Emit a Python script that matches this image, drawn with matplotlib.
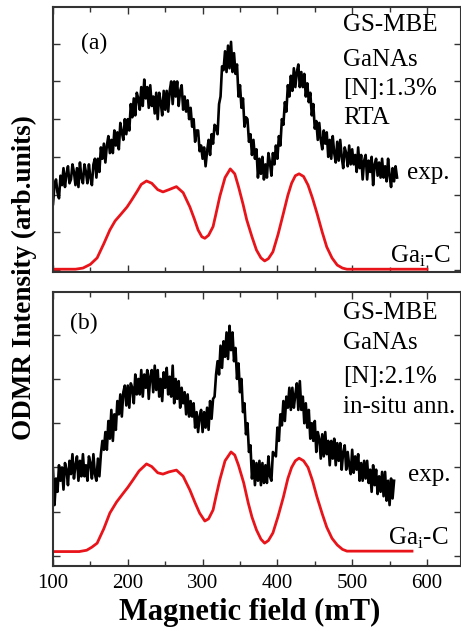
import numpy as np
import matplotlib
matplotlib.use("Agg")
import matplotlib.pyplot as plt
from matplotlib.ticker import MultipleLocator

plt.rcParams["font.family"] = ["Liberation Serif", "DejaVu Serif"]
plt.rcParams["mathtext.fontset"] = "custom"
plt.rcParams["mathtext.rm"] = "Liberation Serif"

# ---------- data ----------
# measured spectra, sampled every 2 mT
field_a = np.arange(100, 561, 2)
exp_a = [
    1.75, 2.25, 2.4, 2.05, 1.9, 2.5, 2.25, 2.7, 2.2, 2.55,
    2.75, 2.3, 2.4, 2.8, 2.6, 2.25, 2.7, 2.2, 2.85, 2.45,
    2.3, 2.8, 2.6, 2.3, 2.8, 2.45, 2.25, 2.8, 2.95, 2.45,
    2.95, 2.6, 3.25, 2.95, 3.35, 2.85, 3.3, 3.55, 3.1, 3.45,
    3.1, 3.7, 3.3, 3.65, 3.2, 3.9, 3.65, 3.45, 4.0, 3.6,
    4.0, 3.7, 4.4, 4.05, 4.55, 4.1, 4.7, 4.55, 4.25, 4.85,
    4.35, 5.05, 4.55, 4.85, 4.3, 4.9, 4.35, 4.6, 4.15, 4.7,
    4.0, 4.7, 4.45, 4.1, 4.75, 4.25, 4.75, 4.2, 4.75, 5.0,
    4.4, 5.0, 4.6, 5.0, 4.35, 4.75, 4.9, 4.25, 4.6, 4.2,
    4.5, 4.0, 4.3, 3.8, 4.0, 3.4, 3.7, 3.7, 3.15, 3.3,
    2.95, 3.25, 2.75, 3.15, 3.45, 3.05, 3.6, 3.35, 3.85, 3.8,
    3.6, 4.4, 4.6, 5.4, 5.3, 5.8, 5.25, 5.95, 5.35, 6.05,
    5.25, 5.75, 5.2, 5.45, 4.6, 4.9, 4.3, 4.55, 3.8, 4.05,
    4.0, 3.4, 3.6, 3.05, 3.45, 2.95, 3.2, 2.45, 2.95, 2.55,
    3.0, 2.4, 2.8, 2.45, 3.1, 2.85, 2.5, 3.1, 2.8, 3.3,
    2.95, 3.55, 3.3, 4.0, 3.85, 4.45, 4.2, 4.9, 4.6, 5.15,
    4.75, 5.35, 4.85, 5.25, 5.45, 4.85, 5.25, 4.85, 5.2, 4.6,
    4.95, 4.45, 4.7, 4.1, 4.4, 3.75, 3.95, 3.45, 3.9, 3.45,
    3.2, 3.7, 3.35, 3.65, 3.0, 3.45, 2.95, 3.55, 3.1, 2.85,
    3.4, 2.9, 3.45, 3.0, 2.7, 3.25, 3.1, 2.75, 3.3, 2.8,
    3.2, 2.8, 3.05, 2.6, 3.25, 2.7, 3.05, 2.4, 2.9, 3.05,
    2.4, 2.9, 2.6, 3.0, 2.25, 2.8, 2.95, 2.5, 2.85, 2.45,
    2.95, 2.45, 2.75, 2.35, 2.95, 2.5, 2.2, 2.7, 2.35, 2.75,
    2.45,
]

field_b = np.arange(100, 557, 2)
exp_b = [
    1.95, 1.15, 1.75, 1.45, 2.05, 1.7, 2.0, 1.5, 2.1, 1.95,
    1.6, 2.15, 1.85, 2.3, 1.75, 2.05, 2.25, 1.7, 2.15, 1.8,
    2.3, 1.8, 2.05, 1.7, 2.25, 2.1, 1.75, 2.3, 1.85, 1.7,
    2.2, 1.8, 2.3, 2.6, 2.4, 2.8, 2.4, 3.05, 2.65, 3.3,
    2.6, 3.2, 2.85, 3.5, 3.2, 3.65, 3.15, 3.7, 3.85, 3.4,
    3.85, 3.35, 3.9, 3.8, 3.45, 4.1, 3.65, 4.0, 3.65, 4.2,
    3.6, 4.1, 3.8, 4.2, 3.55, 4.05, 4.2, 3.7, 4.3, 3.75,
    4.2, 3.6, 4.0, 3.5, 4.15, 3.8, 4.25, 3.65, 4.05, 3.6,
    4.3, 3.45, 4.0, 3.55, 3.95, 3.35, 3.8, 3.45, 3.7, 3.2,
    3.65, 3.15, 3.5, 3.15, 3.45, 2.9, 3.25, 2.8, 3.15, 3.3,
    2.8, 3.25, 2.9, 3.35, 2.85, 3.5, 3.1, 3.55, 3.6, 4.1,
    4.4, 4.1, 4.75, 4.25, 4.85, 4.5, 5.05, 4.45, 5.2, 4.65,
    5.05, 4.4, 4.7, 4.0, 4.35, 3.7, 4.0, 3.25, 3.45, 2.75,
    3.0, 2.35, 2.5, 1.75, 2.15, 1.6, 2.1, 1.7, 2.15, 1.6,
    2.1, 1.65, 2.05, 1.65, 2.25, 1.8, 1.7, 2.35, 2.3, 2.25,
    2.9, 2.6, 3.2, 2.95, 3.5, 3.05, 3.6, 3.35, 3.8, 3.3,
    3.8, 3.35, 3.65, 3.9, 3.3, 3.95, 3.3, 3.6, 3.0, 3.45,
    2.9, 3.3, 2.65, 3.0, 2.6, 3.05, 2.35, 2.8, 2.65, 2.2,
    2.75, 2.25, 2.8, 2.3, 2.6, 2.05, 2.6, 2.2, 2.65, 2.05,
    2.55, 2.15, 2.55, 1.95, 2.35, 2.5, 1.95, 2.35, 2.05, 1.85,
    2.4, 1.88, 2.25, 1.95, 2.3, 1.7, 2.1, 1.7, 2.15, 1.75,
    2.15, 1.65, 1.95, 1.45, 2.05, 1.6, 1.95, 1.4, 1.8, 1.45,
    1.9, 1.35, 1.9, 1.25, 1.7, 1.15, 1.75, 1.3, 1.7,
]

# simulated Ga_i-C spectra
sim_field_a = [100, 130, 140, 150, 159, 168, 176, 183, 190, 199, 205, 212, 218,
               225, 232, 240, 247, 255, 265, 274, 283, 289, 294, 299, 303, 308,
               314, 318, 323, 330, 337, 343, 348, 354, 359, 366, 372, 378, 383,
               388, 394, 401, 408, 414, 419, 424, 429, 435, 441, 447, 453, 460,
               466, 473, 480, 487, 493, 600]
sim_a = [0.02, 0.02, 0.05, 0.15, 0.32, 0.7, 1.06, 1.3, 1.46, 1.67, 1.85, 2.07, 2.27,
         2.36, 2.3, 2.13, 2.07, 2.13, 2.21, 2.05, 1.67, 1.35, 1.06, 0.88, 0.84, 0.92,
         1.15, 1.5, 1.95, 2.45, 2.68, 2.55, 2.21, 1.75, 1.33, 0.88, 0.53, 0.32, 0.24,
         0.3, 0.48, 0.95, 1.5, 1.98, 2.3, 2.5, 2.55, 2.48, 2.25, 1.9, 1.5, 1.0,
         0.61, 0.32, 0.13, 0.05, 0.02, 0.02]

sim_field_b = [100, 135, 145, 152, 159, 168, 176, 185, 194, 200, 207, 215, 225,
               232, 240, 247, 255, 265, 274, 283, 290, 296, 303, 308, 314, 318,
               323, 330, 338, 343, 348, 355, 361, 366, 372, 378, 383, 388, 394,
               401, 408, 414, 419, 424, 429, 435, 441, 447, 453, 460, 466, 473,
               480, 487, 493, 580]
sim_b = [0.1, 0.1, 0.13, 0.2, 0.29, 0.62, 0.97, 1.22, 1.42, 1.55, 1.72, 1.92, 2.08,
         2.02, 1.88, 1.85, 1.9, 1.94, 1.8, 1.49, 1.2, 0.97, 0.79, 0.84, 1.04, 1.35,
         1.72, 2.15, 2.35, 2.28, 2.05, 1.65, 1.2, 0.88, 0.59, 0.38, 0.29, 0.35, 0.52,
         0.9, 1.33, 1.75, 2.0, 2.15, 2.21, 2.15, 2.0, 1.7, 1.33, 0.95, 0.65, 0.4,
         0.25, 0.15, 0.11, 0.11]

labels_a = ["GS-MBE", "GaNAs", "[N]:1.3%", "RTA"]
labels_b = ["GS-MBE", "GaNAs", "[N]:2.1%", "in-situ ann."]


def style_axes(ax, ylim):
    ax.set_xlim(100, 645.5)
    ax.set_ylim(*ylim)
    ax.xaxis.set_major_locator(MultipleLocator(100))
    ax.xaxis.set_minor_locator(MultipleLocator(50))
    ax.yaxis.set_major_locator(MultipleLocator(1))
    ax.tick_params(which="both", direction="in", top=True, right=True,
                   labelleft=False, width=1.0, color="#333333")
    ax.tick_params(which="major", length=5)
    ax.tick_params(which="minor", length=3.5)
    for sp in ax.spines.values():
        sp.set_linewidth(1.5)
        sp.set_color("#333333")


fig = plt.figure(figsize=(4.61, 6.31), dpi=100)
ax1 = fig.add_axes([0.115, 0.569, 0.885, 0.420])
ax2 = fig.add_axes([0.115, 0.103, 0.885, 0.434])

# ---- panel (a) ----
ax1.plot(field_a, exp_a, color="black", lw=1.9)
ax1.plot(sim_field_a, sim_a, color="#e8141a", lw=2.0)
style_axes(ax1, (-0.053, 6.976))
ax1.tick_params(labelbottom=False)
ax1.text(0.10, 0.864, "(a)", transform=ax1.transAxes, fontsize=17, ha="center", va="center")
for lab, yy in zip(labels_a, [0.932, 0.80, 0.69, 0.58]):
    ax1.text(0.711, yy, lab, transform=ax1.transAxes, fontsize=18, ha="left", va="center")
ax1.text(0.868, 0.374, "exp.", transform=ax1.transAxes, fontsize=18, ha="left", va="center")
ax1.text(0.826, 0.06, r"Ga$_\mathrm{i}$-C", transform=ax1.transAxes, fontsize=18,
         ha="left", va="center")

# ---- panel (b) ----
ax2.plot(field_b, exp_b, color="black", lw=1.9)
ax2.plot(sim_field_b, sim_b, color="#e8141a", lw=2.0)
style_axes(ax2, (-0.226, 5.96))
ax2.tick_params(labelsize=15, pad=6)
ax2.text(0.076, 0.887, "(b)", transform=ax2.transAxes, fontsize=17, ha="center", va="center")
for lab, yy in zip(labels_b, [0.923, 0.814, 0.69, 0.58]):
    ax2.text(0.711, yy, lab, transform=ax2.transAxes, fontsize=18, ha="left", va="center")
ax2.text(0.87, 0.332, "exp.", transform=ax2.transAxes, fontsize=18, ha="left", va="center")
ax2.text(0.821, 0.102, r"Ga$_\mathrm{i}$-C", transform=ax2.transAxes, fontsize=18,
         ha="left", va="center")

fig.text(0.054, 0.56, "ODMR Intensity (arb.units)", rotation=90, fontsize=19.5,
         fontweight="bold", ha="center", va="center")
fig.text(0.542, 0.03, "Magnetic field (mT)", fontsize=22, fontweight="bold",
         ha="center", va="center")

fig.savefig("out.png", dpi=100)
